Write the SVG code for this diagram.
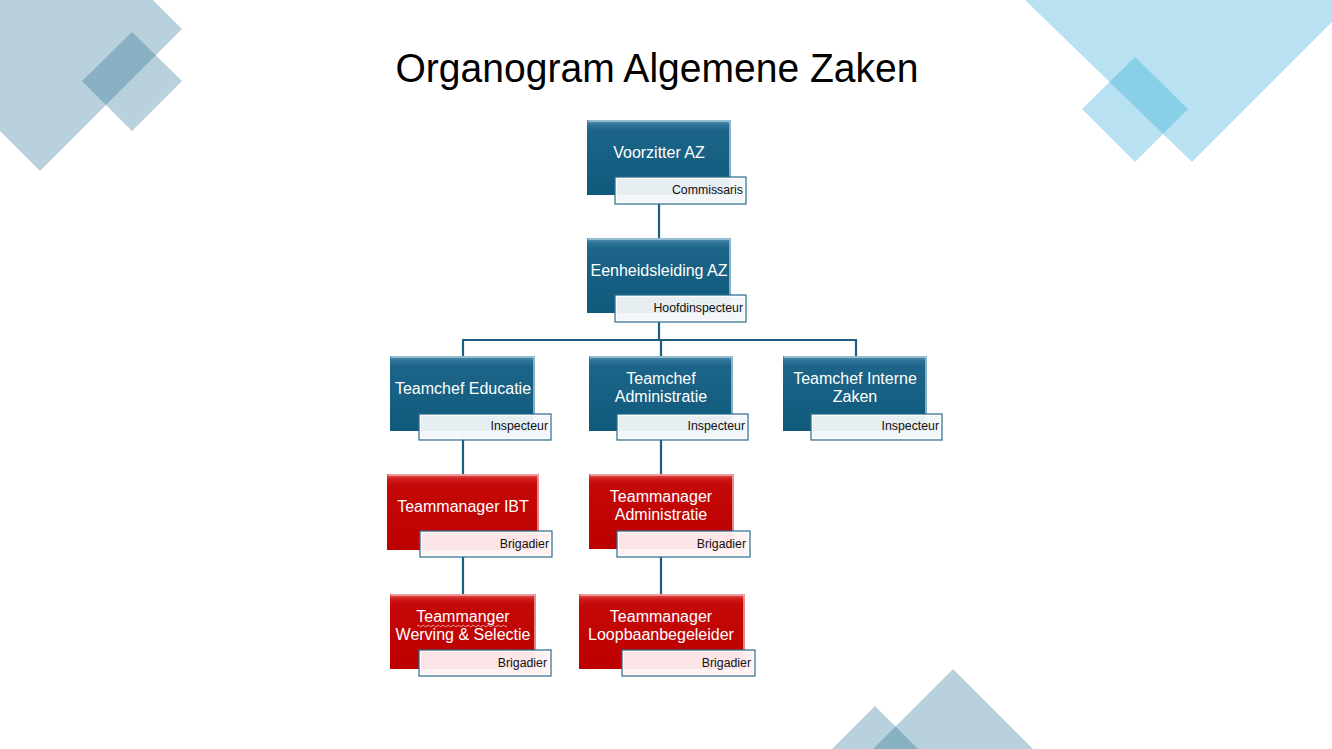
<svg xmlns="http://www.w3.org/2000/svg" width="1332" height="749" viewBox="0 0 1332 749">
<defs>
<linearGradient id="gBlue" x1="0" y1="0" x2="0" y2="1">
<stop offset="0" stop-color="#5C94B1"/>
<stop offset="0.07" stop-color="#2C7195"/>
<stop offset="0.14" stop-color="#1C6589"/>
<stop offset="1" stop-color="#0F597B"/>
</linearGradient>
<linearGradient id="gRed" x1="0" y1="0" x2="0" y2="1">
<stop offset="0" stop-color="#E35A5A"/>
<stop offset="0.07" stop-color="#CF1A1A"/>
<stop offset="0.14" stop-color="#C50808"/>
<stop offset="1" stop-color="#BC0000"/>
</linearGradient>
<style>
.bgA{fill:#16668A;fill-opacity:0.3}
.bgB{fill:#34ACD7;fill-opacity:0.35}
.blue{fill:url(#gBlue)}
.red{fill:url(#gRed)}
.hlB{stroke:#A9CADB;stroke-width:1.5;fill:none}
.hlR{stroke:#F2B2B2;stroke-width:1.5;fill:none}
.subB{fill:#F3F7F9;fill-opacity:0.95;stroke:#2C6D8C;stroke-width:1.2}
.subR{fill:#FEF1F2;fill-opacity:0.95;stroke:#2C6D8C;stroke-width:1.2}
.inner{fill:none;stroke:#FFFFFF;stroke-width:1;stroke-opacity:0.8}
.t{font-family:"Liberation Sans",Arial,sans-serif;font-size:16px;fill:#FFFFFF;text-anchor:middle}
.s{font-family:"Liberation Sans",Arial,sans-serif;font-size:12.3px;fill:#111111;text-anchor:end}
.conn{stroke:#1D5F80;stroke-width:2.2;fill:none}
</style>
</defs>
<rect width="1332" height="749" fill="#FFFFFF"/>
<g id="background">
<polygon class="bgA" points="40,-113 182,29 40,171 -102,29"/>
<polygon class="bgA" points="132,32 182,81 132,131 82,81"/>
<polygon class="bgB" points="1025,0 1192,162 1332,22 1332,0"/>
<polygon class="bgB" points="1135,57 1188,109 1135,162 1082,109"/>
<polygon class="bgA" points="873,749 953,669 1033,749"/>
<polygon class="bgA" points="832,749 875,706 918,749"/>
</g>
<text x="657" y="82" font-family="'Liberation Sans',Arial,sans-serif" font-size="40" fill="#000000" text-anchor="middle" textLength="523" lengthAdjust="spacingAndGlyphs">Organogram Algemene Zaken</text>
<g id="connectors">
<line class="conn" x1="659" y1="200" x2="659" y2="239"/>
<polyline class="conn" points="659,318 659,340"/>
<polyline class="conn" points="463,357 463,340 856,340 856,357"/>
<line class="conn" x1="661" y1="340" x2="661" y2="357"/>
<line class="conn" x1="463" y1="436" x2="463" y2="474"/>
<line class="conn" x1="661" y1="436" x2="661" y2="474"/>
<line class="conn" x1="463" y1="554" x2="463" y2="594"/>
<line class="conn" x1="661" y1="554" x2="661" y2="594"/>
</g>
<g id="voorzitter">
<rect class="blue" x="587" y="120" width="144" height="75"/>
<polyline class="hlB" points="588,121 730,121 730,195"/>
<text class="t" x="659" y="158">Voorzitter AZ</text>
<rect class="subB" x="615" y="177" width="131" height="27"/>
<rect class="inner" x="616.5" y="178.5" width="128" height="24"/>
<text class="s" x="743" y="194">Commissaris</text>
</g>
<g id="eenheidsleiding">
<rect class="blue" x="587" y="238" width="144" height="75"/>
<polyline class="hlB" points="588,239 730,239 730,313"/>
<text class="t" x="659" y="276">Eenheidsleiding AZ</text>
<rect class="subB" x="615" y="295" width="131" height="27"/>
<rect class="inner" x="616.5" y="296.5" width="128" height="24"/>
<text class="s" x="743" y="312">Hoofdinspecteur</text>
</g>
<g id="teamchef-educatie">
<rect class="blue" x="390" y="356" width="145" height="75"/>
<polyline class="hlB" points="391,357 534,357 534,431"/>
<text class="t" x="463" y="394">Teamchef Educatie</text>
<rect class="subB" x="419" y="414" width="132" height="26"/>
<rect class="inner" x="420.5" y="415.5" width="129" height="23"/>
<text class="s" x="548" y="430">Inspecteur</text>
</g>
<g id="teamchef-administratie">
<rect class="blue" x="589" y="356" width="144" height="75"/>
<polyline class="hlB" points="590,357 732,357 732,431"/>
<text class="t" x="661" y="384">Teamchef</text>
<text class="t" x="661" y="402">Administratie</text>
<rect class="subB" x="617" y="414" width="131" height="26"/>
<rect class="inner" x="618.5" y="415.5" width="128" height="23"/>
<text class="s" x="745" y="430">Inspecteur</text>
</g>
<g id="teamchef-interne-zaken">
<rect class="blue" x="783" y="356" width="144" height="75"/>
<polyline class="hlB" points="784,357 926,357 926,431"/>
<text class="t" x="855" y="384">Teamchef Interne</text>
<text class="t" x="855" y="402">Zaken</text>
<rect class="subB" x="811" y="414" width="131" height="26"/>
<rect class="inner" x="812.5" y="415.5" width="128" height="23"/>
<text class="s" x="939" y="430">Inspecteur</text>
</g>
<g id="teammanager-ibt">
<rect class="red" x="387" y="474" width="152" height="76"/>
<polyline class="hlR" points="388,475 538,475 538,550"/>
<text class="t" x="463" y="512">Teammanager IBT</text>
<rect class="subR" x="420" y="531" width="132" height="26"/>
<rect class="inner" x="421.5" y="532.5" width="129" height="23"/>
<text class="s" x="549" y="548">Brigadier</text>
</g>
<g id="teammanager-administratie">
<rect class="red" x="589" y="474" width="145" height="75"/>
<polyline class="hlR" points="590,475 733,475 733,549"/>
<text class="t" x="661" y="502">Teammanager</text>
<text class="t" x="661" y="520">Administratie</text>
<rect class="subR" x="617" y="531" width="133" height="26"/>
<rect class="inner" x="618.5" y="532.5" width="130" height="23"/>
<text class="s" x="746" y="548">Brigadier</text>
</g>
<g id="teammanger-werving-selectie">
<rect class="red" x="390" y="594" width="146" height="75"/>
<polyline class="hlR" points="391,595 535,595 535,669"/>
<text class="t" x="463" y="622">Teammanger</text>
<path d="M417,626 q1.25,-1.5 2.5,0 t2.5,0 t2.5,0 t2.5,0 t2.5,0 t2.5,0 t2.5,0 t2.5,0 t2.5,0 t2.5,0 t2.5,0 t2.5,0 t2.5,0 t2.5,0 t2.5,0 t2.5,0 t2.5,0 t2.5,0 t2.5,0 t2.5,0 t2.5,0 t2.5,0 t2.5,0 t2.5,0 t2.5,0 t2.5,0 t2.5,0 t2.5,0 t2.5,0 t2.5,0 t2.5,0 t2.5,0 t2.5,0 t2.5,0 t2.5,0 t2.5,0" fill="none" stroke="#F0A0A0" stroke-width="1"/>
<text class="t" x="463" y="640">Werving &amp; Selectie</text>
<rect class="subR" x="419" y="650" width="132" height="26"/>
<rect class="inner" x="420.5" y="651.5" width="129" height="23"/>
<text class="s" x="547" y="667">Brigadier</text>
</g>
<g id="teammanager-loopbaanbegeleider">
<rect class="red" x="579" y="594" width="166" height="75"/>
<polyline class="hlR" points="580,595 744,595 744,669"/>
<text class="t" x="661" y="622">Teammanager</text>
<text class="t" x="661" y="640">Loopbaanbegeleider</text>
<rect class="subR" x="622" y="650" width="133" height="26"/>
<rect class="inner" x="623.5" y="651.5" width="130" height="23"/>
<text class="s" x="751" y="667">Brigadier</text>
</g>
</svg>
